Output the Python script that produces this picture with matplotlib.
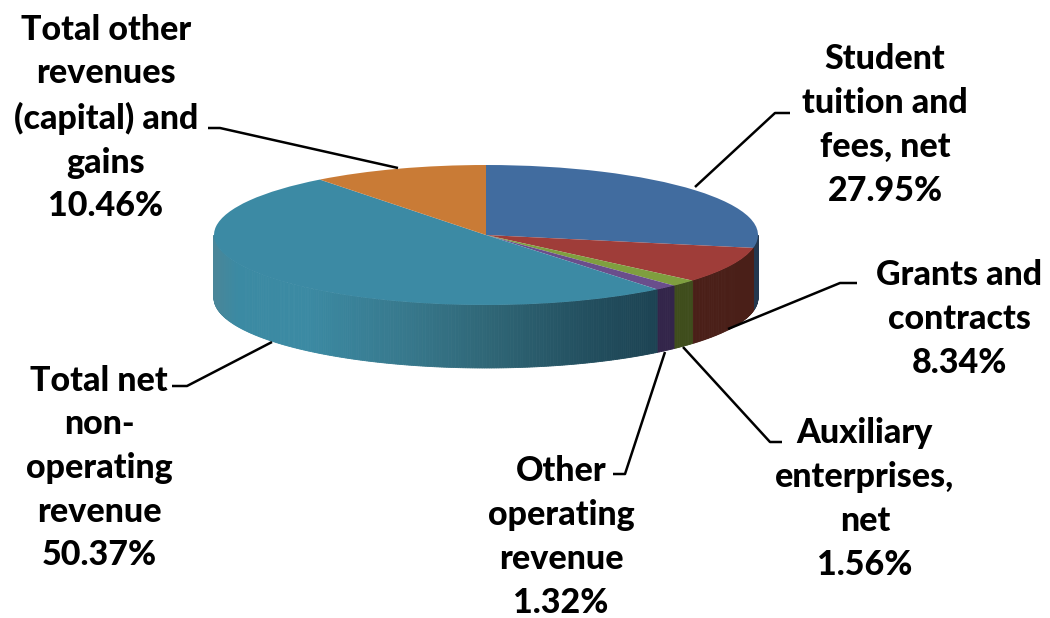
#!/usr/bin/env python3
"""3D-look revenue pie: top face from ax.pie squashed to an ellipse, side wall from strips."""
import matplotlib
matplotlib.use("Agg")
import matplotlib.pyplot as plt
import numpy as np
from matplotlib.colors import LinearSegmentedColormap

# ── Data ───────────────────────────────────────────────────────────────────
names = ["Student\ntuition and\nfees, net", "Grants and\ncontracts", "Auxiliary\nenterprises,\nnet",
         "Other\noperating\nrevenue", "Total net\nnon-\noperating\nrevenue",
         "Total other\nrevenues\n(capital) and\ngains"]
shares = [27.95, 8.34, 1.56, 1.32, 50.37, 10.46]

top_colors = ["#416c9f", "#9f3d39", "#7f9f3f", "#6a4e8c", "#3c8aa4", "#c97b36"]
wall_stops = [
    ["#24384f", "#24384f"],
    ["#4a1f18", "#4a1f18"],
    ["#3f4d1c", "#3f4d1c"],
    ["#33254a", "#33254a"],
    [(0, "#4a8699"), (0.05, "#3b8aa3"), (0.2, "#3b8aa3"), (0.42, "#37788c"),
     (0.6, "#2f6676"), (0.82, "#224e5e"), (1, "#1b4050")],
    ["#c97b36", "#c97b36"],
]

# label centre (px), leader polyline (px)
label_pos = [(885, 125), (959, 319), (865, 499), (561, 537), (99, 468), (106, 118)]
leaders = [
    [(695, 187), (775, 113), (790, 113)],
    [(728, 329), (840, 283), (857, 283)],
    [(683, 347), (770, 442), (782, 442)],
    [(665, 352), (625, 474), (613, 474)],
    [(272, 342), (187, 386), (172, 386)],
    [(398, 168), (220, 128), (208, 128)],
]

# ── Pie geometry in px ─────────────────────────────────────────────────────
W, H = 1050, 618
CX, CY, RX, RY, DEPTH = 486, 235, 272, 70, 63

plt.rcParams["font.family"] = ["Lato", "DejaVu Sans"]

fig = plt.figure(figsize=(W / 100, H / 100), dpi=100)
ax = fig.add_axes([0, 0, 1, 1])

ax.pie(shares, colors=top_colors, startangle=90, counterclock=False, radius=1,
       frame=True, wedgeprops={"linewidth": 0, "zorder": 3})
ax.set_aspect("auto")
ax.set_xlim(-CX / RX, (W - CX) / RX)
ax.set_ylim((CY - H) / RY, CY / RY)
ax.axis("off")

# side wall, only the front half of the ellipse shows
depth = DEPTH / RY
edges = np.cumsum([0] + shares) / sum(shares) * 360
for i in range(len(shares)):
    a0, a1 = max(edges[i], 90), min(edges[i + 1], 270)
    if a1 <= a0:
        continue
    cmap = LinearSegmentedColormap.from_list(f"wall{i}", wall_stops[i])
    steps = max(int(a1 - a0) * 2, 2)
    ang = np.radians(np.linspace(a0, a1, steps + 1))
    xs, ys = np.sin(ang), np.cos(ang)
    for k in range(steps):
        # teal goes from light at the left end to dark near the purple slice
        c = cmap(min((xs[k] + 1) / 1.7, 1.0) if i == 4 else 0.5)
        px = [xs[k], xs[k + 1], xs[k + 1], xs[k]]
        py = [ys[k], ys[k + 1], ys[k + 1] - depth, ys[k] - depth]
        ax.fill(px, py, color=c, lw=0.6, zorder=2)

# ── Labels and leaders ─────────────────────────────────────────────────────
ov = fig.add_axes([0, 0, 1, 1])
ov.set_xlim(0, W)
ov.set_ylim(H, 0)
ov.axis("off")
ov.patch.set_alpha(0)

for name, share, (lx, ly), line in zip(names, shares, label_pos, leaders):
    ov.text(lx, ly, f"{name}\n{share:.2f}%", ha="center", va="center", fontsize=24.5,
            fontweight="black", color="black", linespacing=1.45)
    ov.plot(*zip(*line), color="black", lw=1.8, solid_capstyle="butt")

fig.savefig("out.png", dpi=100)
